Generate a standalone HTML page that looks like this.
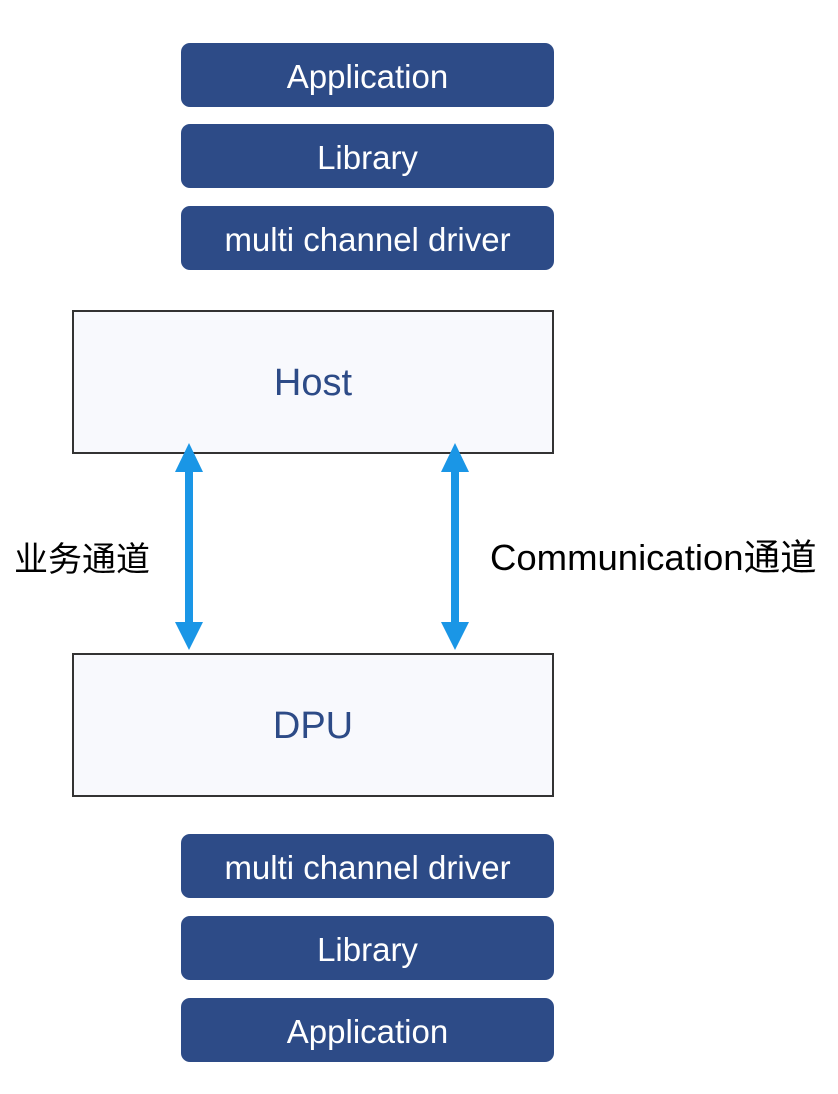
<!DOCTYPE html>
<html><head><meta charset="utf-8"><style>
body{margin:0;width:838px;height:1094px;background:#fff;position:relative;overflow:hidden;font-family:"Liberation Sans","Noto Sans CJK SC",sans-serif}
.b{position:absolute;left:181px;width:373px;height:64px;background:#2d4b87;border-radius:9px;color:#fff;font-size:33px;display:flex;align-items:center;justify-content:center;padding-top:4px;box-sizing:border-box}
.big{position:absolute;left:72px;width:478px;height:138px;border:2px solid #333;background:#f8f9fd;color:#2d4b87;font-size:38px;display:flex;align-items:center;justify-content:center;box-sizing:content-box;padding-top:2px}
.l{position:absolute;font-size:34px;color:#000}
</style></head><body>
<div class="b" style="top:43px">Application</div>
<div class="b" style="top:124px">Library</div>
<div class="b" style="top:206px">multi channel driver</div>
<div class="big" style="top:310px">Host</div>
<div class="big" style="top:653px">DPU</div>
<div class="b" style="top:834px">multi channel driver</div>
<div class="b" style="top:916px">Library</div>
<div class="b" style="top:998px">Application</div>
<svg style="position:absolute;left:0;top:0" width="838" height="1094">
<g fill="#1a96e6">
<rect x="185" y="470" width="8" height="156"/>
<polygon points="189,443 175,472 203,472"/>
<polygon points="189,650 175,622 203,622"/>
<rect x="451" y="470" width="8" height="156"/>
<polygon points="455,443 441,472 469,472"/>
<polygon points="455,650 441,622 469,622"/>
</g></svg>
<div class="l" style="left:14px;top:532px">业务通道</div>
<div class="l" style="left:490px;top:528px;font-size:36.5px">Communication通道</div>
</body></html>
